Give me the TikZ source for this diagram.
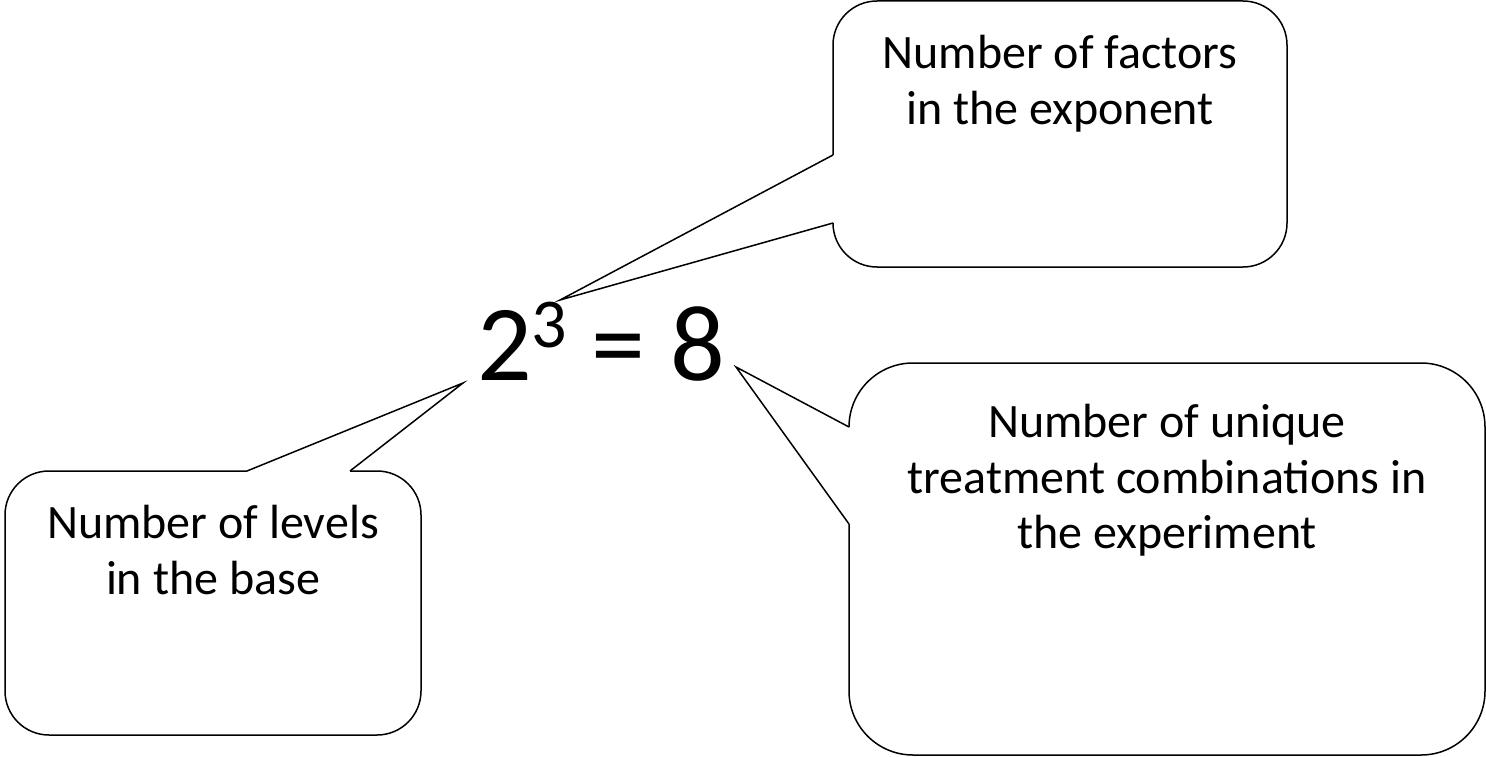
\documentclass[tikz,border=0pt]{standalone}
\usepackage{fontspec}
\setmainfont{Carlito}
\tikzset{
  outline/.style={draw=black, line width=1.5pt, line join=miter},
  boxline/.style={outline, rounded corners=#1},
  label/.style={inner sep=0pt, align=center, font=\fontsize{48}{55.5}\selectfont, anchor=north}
}
\begin{document}
\begin{tikzpicture}[x=1pt, y=-1pt]
\useasboundingbox (0,0) rectangle (1486,757);
% equation
\node[inner sep=0pt, anchor=base west, font=\fontsize{108}{120}\selectfont] (eq) at (477,380)
  {2\raisebox{33pt}{\fontsize{70}{80}\selectfont 3} = 8};
% tips
\coordinate (tipT) at (560,300);
\coordinate (tipL) at (463,383);
\coordinate (tipR) at (736,367);
% top callout
\coordinate (Ta) at (833,155);
\coordinate (Tb) at (833,223);
\draw[boxline=44pt] (Tb) -- (833,267) -- (1287,267) -- (1287,1) -- (833,1) -- (Ta);
\draw[outline] (Ta) -- (tipT) -- (Tb);
\node[label] (tT) at (1060,35) {Number of factors\\in the exponent};
% left callout
\coordinate (La) at (247,471);
\coordinate (Lb) at (350,471);
\draw[boxline=44pt] (Lb) -- (421,471) -- (421,735) -- (5,735) -- (5,471) -- (La);
\draw[outline] (La) -- (tipL) -- (Lb);
\node[label] (tL) at (213,505) {Number of levels\\in the base};
% right callout
\coordinate (Ra) at (849,427);
\coordinate (Rb) at (849,524);
\draw[boxline=64pt] (Rb) -- (849,755) -- (1485,755) -- (1485,363) -- (849,363) -- (Ra);
\draw[outline] (Ra) -- (tipR) -- (Rb);
\node[label] (tR) at (1167,404) {Number of unique\\treatment combinations in\\the experiment};
\end{tikzpicture}
\end{document}
